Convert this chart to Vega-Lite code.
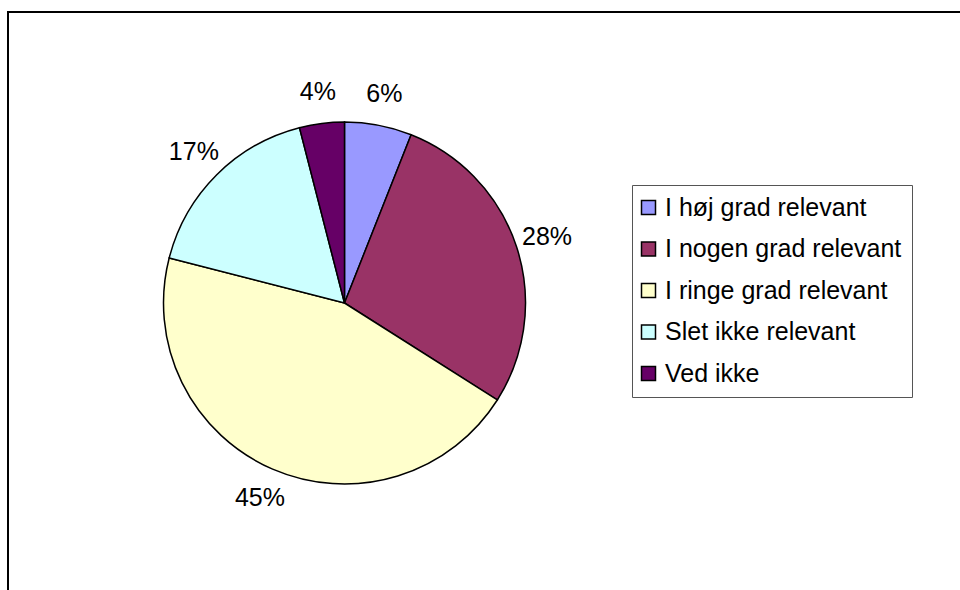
{
  "$schema": "https://vega.github.io/schema/vega-lite/v6.json",
  "width": 960,
  "height": 590,
  "autosize": {"type": "fit", "contains": "padding"},
  "padding": {"left": 8, "top": 12, "right": -10, "bottom": -10},
  "background": "white",
  "view": {"stroke": "black", "strokeWidth": 2, "fill": "white"},
  "config": {
    "view": {"stroke": "black", "strokeWidth": 2},
    "font": "Liberation Sans"
  },
  "data": {
    "values": [
      {"category": "I høj grad relevant", "share": 6, "label": "6%"},
      {"category": "I nogen grad relevant", "share": 28, "label": "28%"},
      {"category": "I ringe grad relevant", "share": 45, "label": "45%"},
      {"category": "Slet ikke relevant", "share": 17, "label": "17%"},
      {"category": "Ved ikke", "share": 4, "label": "4%"}
    ]
  },
  "encoding": {
    "theta": {"field": "share", "type": "quantitative", "stack": true},
    "order": {"field": "order", "type": "quantitative"}
  },
  "transform": [
    {"window": [{"op": "row_number", "as": "order"}]}
  ],
  "layer": [
    {
      "mark": {"type": "arc", "outerRadius": 181, "x": 336.5, "y": 291, "stroke": "black", "strokeWidth": 1.5},
      "encoding": {
        "color": {
          "field": "category",
          "type": "nominal",
          "sort": ["I høj grad relevant", "I nogen grad relevant", "I ringe grad relevant", "Slet ikke relevant", "Ved ikke"],
          "scale": {
            "domain": ["I høj grad relevant", "I nogen grad relevant", "I ringe grad relevant", "Slet ikke relevant", "Ved ikke"],
            "range": ["#9999FF", "#993366", "#FFFFCC", "#CCFFFF", "#660066"]
          },
          "legend": {
            "title": null,
            "orient": "none",
            "legendX": 624,
            "legendY": 173,
            "padding": 10,
            "strokeColor": "#555555",
            "fillColor": "white",
            "symbolType": "square",
            "symbolSize": 196,
            "symbolOffset": -6,
            "symbolStrokeColor": "black",
            "symbolStrokeWidth": 1.5,
            "symbolOpacity": 1,
            "labelFont": "Liberation Sans",
            "labelFontSize": 25,
            "labelColor": "black",
            "labelOffset": 4,
            "rowPadding": 15.5,
            "labelLimit": 400
          }
        }
      }
    },
    {
      "mark": {"type": "text", "radius": 213, "x": 336.5, "y": 291, "font": "Liberation Sans", "fontSize": 25, "color": "black", "align": "center", "baseline": "middle"},
      "encoding": {
        "text": {"field": "label", "type": "nominal"}
      }
    }
  ]
}
